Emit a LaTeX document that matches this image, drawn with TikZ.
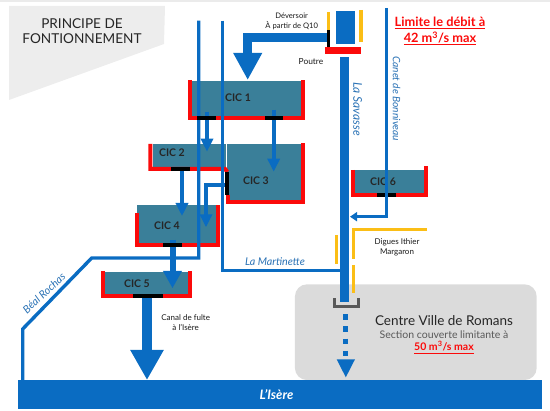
\documentclass[tikz,border=0pt]{standalone}
\usepackage{fontspec}
\setmainfont{Lato}
\usetikzlibrary{arrows.meta}

\definecolor{watercol}{HTML}{0A6CC2}
\definecolor{basincol}{HTML}{3A7F99}
\definecolor{wallcol}{HTML}{FB0A0A}
\definecolor{digcol}{HTML}{FBBE16}
\definecolor{labelcol}{HTML}{2A72B5}

\tikzset{
    basin/.style={fill=basincol, inner sep=0pt, outer sep=0pt},
    wall/.style={draw=wallcol, line width=4pt},
    sill/.style={fill=black, inner sep=0pt, outer sep=0pt},
    water/.style={fill=watercol, inner sep=0pt, outer sep=0pt},
    digue/.style={draw=digcol, line width=3.4pt},
    stream/.style={draw=watercol, line width=3.4pt},
    flow/.style={draw=watercol, line width=4pt, -{Triangle[length=13pt, width=12pt]}},
    cic/.style={font=\fontsize{10.5}{12}\selectfont\bfseries, text=black!85},
    small/.style={font=\fontsize{8}{10}\selectfont, text=black!90, align=center},
    river/.style={font=\fontsize{10.7}{12}\selectfont\itshape, text=labelcol}
}

\begin{document}
\begin{tikzpicture}[x=1pt, y=-1pt]
    \useasboundingbox (0,0) rectangle (550,411);
    \fill[black!8] (0,0) rectangle (550,2);

    \fill[black!7] (9,6) -- (165,6) -- (164,44) -- (9,100) -- cycle;
    \node[font=\fontsize{13.6}{15.6}\selectfont, text=black!85, align=center] (title) at (82,31)
        {PRINCIPE DE\\FONTIONNEMENT};

    \node[fill=black!14, rounded corners=12pt, inner sep=0pt, minimum width=241.7pt, minimum height=95.7pt] (centre) at (415.8,332.2) {};
    \node[water, minimum width=524pt, minimum height=29.3pt] (isere) at (279.7,394.7) {};
    \node[font=\fontsize{13}{15}\selectfont\bfseries\itshape, text=white] (iseretext) at (276.5,395) {L'Isère};

    \node[basin, minimum width=109pt, minimum height=35.5pt] (cic1) at (246.5,98.75) {};
    \node[basin, minimum width=73.3pt, minimum height=23pt] (cic2) at (189.35,155.5) {};
    \node[basin, minimum width=74pt, minimum height=57pt] (cic3) at (264,172.5) {};
    \node[basin, minimum width=79pt, minimum height=38pt] (cic4) at (176.5,224) {};
    \node[basin, minimum width=83pt, minimum height=22pt] (cic5) at (146.5,283) {};
    \node[basin, minimum width=69pt, minimum height=23pt] (cic6) at (389.5,181.5) {};

    \draw[wall] (189.5,80) -- (189.5,117.8) -- (303,117.8) -- (303,80);
    \draw[wall] (150.3,144) -- (150.3,168.8) -- (225,168.8) -- (227.3,172);
    \draw[wall] (227.5,195) -- (227.5,202.5) -- (302.8,202.5) -- (302.8,143);
    \draw[wall] (137,213) -- (137,245) -- (218,245) -- (218,205);
    \draw[wall] (103,271) -- (103,296) -- (189.7,296) -- (189.7,271);
    \draw[wall] (352.5,170) -- (352.5,194.7) -- (426.3,194.7) -- (426.3,166);

    \node[cic] (cic1text) at (238,98) {CIC 1};
    \node[cic] (cic2text) at (172,153) {CIC 2};
    \node[cic] (cic3text) at (256,181) {CIC 3};
    \node[cic] (cic4text) at (167,226) {CIC 4};
    \node[cic] (cic5text) at (137,284) {CIC 5};
    \node[cic] (cic6text) at (383,182) {CIC 6};

    \node[sill, minimum width=19pt, minimum height=4pt] (sill6) at (386.3,194.7) {};

    \coordinate (rochastop) at (198.7,20.7);
    \coordinate (rochasa) at (198.7,258);
    \coordinate (rochasb) at (91.7,258);
    \coordinate (rochasc) at (22.7,329);
    \draw[stream] (rochastop) -- (rochasa) -- (rochasb) -- (rochasc) -- (22.7,380);

    \coordinate (martinettetop) at (222.3,20.7);
    \draw[stream, line width=3pt] (martinettetop) -- (222.3,271) -- (342,271);

    \node[water, minimum width=8.7pt, minimum height=244.7pt] (savasse) at (344.7,179.4) {};
    \node[water, minimum width=18.7pt, minimum height=33.6pt] (vanne) at (345.7,27.5) {};
    \node[fill=wallcol, inner sep=0pt, minimum width=36.3pt, minimum height=7pt] (poutre) at (343.2,50.8) {};
    \node[sill, minimum width=3.6pt, minimum height=17pt] (seuil) at (328.6,38.5) {};

    \draw[digue] (328.6,12) -- (328.6,30);
    \draw[digue] (361,10) -- (361,42);
    \draw[digue] (336.7,235) -- (336.7,264.3);
    \draw[digue] (353.7,259) -- (353.7,229.3) -- (426.7,229.3);
    \draw[digue] (353.7,265) -- (353.7,293.3);

    \coordinate (canettop) at (386.7,8);
    \coordinate (canetbas) at (386.7,216.7);
    \coordinate (canetin) at (350,216.7);
    \draw[draw=watercol, line width=3.2pt, -{Triangle[length=7pt, width=9pt]}] (canettop) -- (canetbas) -- (canetin);

    \coordinate (flowa) at (207,112);
    \coordinate (flowb) at (207,151.7);
    \draw[flow] (flowa) -- (flowb);
    \coordinate (flowc) at (273.7,110);
    \coordinate (flowd) at (273.7,171.7);
    \draw[flow] (flowc) -- (flowd);
    \coordinate (flowe) at (182,170);
    \coordinate (flowf) at (182,216);
    \draw[flow] (flowe) -- (flowf);
    \coordinate (flowg) at (226,185);
    \coordinate (flowh) at (206,185);
    \coordinate (flowi) at (206,227.3);
    \draw[flow] (flowg) -- (flowh) -- (flowi);
    \draw[draw=watercol, line width=6pt, -{Triangle[length=17.3pt, width=17.7pt]}] (172.5,240) -- (172.5,288.3);
    \draw[draw=watercol, line width=10.7pt, -{Triangle[length=30pt, width=31.3pt]}] (147,298) -- (147,380);
    \draw[draw=watercol, line width=8.5pt, -{Triangle[length=27pt, width=27pt]}] (326.7,37.4) -- (247.7,37.4) -- (247.7,80);

    \node[sill, minimum width=19pt, minimum height=4pt] (sill1a) at (206.8,117.8) {};
    \node[sill, minimum width=18pt, minimum height=4pt] (sill1b) at (274,117.8) {};
    \node[sill, minimum width=19pt, minimum height=4pt] (sill2) at (180.5,168.8) {};
    \node[sill, minimum width=4pt, minimum height=23pt] (sill3) at (227,183.5) {};
    \node[sill, minimum width=19pt, minimum height=4pt] (sill4) at (172,245) {};
    \node[sill, minimum width=30pt, minimum height=4pt] (sill5) at (148,296) {};

    \draw[draw=black!65, line width=3pt] (334.8,298.3) -- (334.8,306.8) -- (358.5,306.8) -- (358.5,298.3);
    \draw[draw=watercol, line width=5.4pt, dash pattern=on 5.6pt off 6.6pt] (345.7,314.2) -- (345.7,359.3);
    \draw[draw=none, fill=watercol] (336.7,359.3) -- (355,359.3) -- (345.8,377.3) -- cycle;

    \node[small, font=\fontsize{7.6}{10}\selectfont] (deversoir) at (291.7,21) {Déversoir\\À partir de Q10};
    \node[small, font=\fontsize{8.4}{10}\selectfont] (poutretext) at (311,62) {Poutre};
    \node[small] (canal) at (185.7,322.5) {Canal de fulte\\à l'Isère};
    \node[small] (digues) at (397,247.7) {Digues Ithier\\Margaron};

    \node[font=\fontsize{12.8}{16}\selectfont\bfseries, text=wallcol, align=center] (limite) at (440,31)
        {\underline{Limite le débit à}\\\underline{42 m\textsuperscript{3}/s max}};

    \node[river, rotate=-90, font=\fontsize{12}{14}\selectfont\itshape] (savassetext) at (357.7,109) {La Savasse};
    \node[river, rotate=-90, font=\fontsize{10.2}{12}\selectfont\itshape] (canettext) at (396.7,98.7) {Canet de Bonniveau};
    \node[river, rotate=43] (rochastext) at (44,293) {Béal Rochas};
    \node[river] (martinettetext) at (275,262) {La Martinette};

    \node[font=\fontsize{13.5}{15}\selectfont, text=black!85] (romans) at (444,320.7) {Centre Ville de Romans};
    \node[font=\fontsize{10.5}{12}\selectfont, text=black!65] (section) at (444,334.5) {Section couverte limitante à};
    \node[font=\fontsize{10.5}{12}\selectfont\bfseries, text=wallcol] (max) at (444,347.5) {\underline{50 m\textsuperscript{3}/s max}};
\end{tikzpicture}
\end{document}
